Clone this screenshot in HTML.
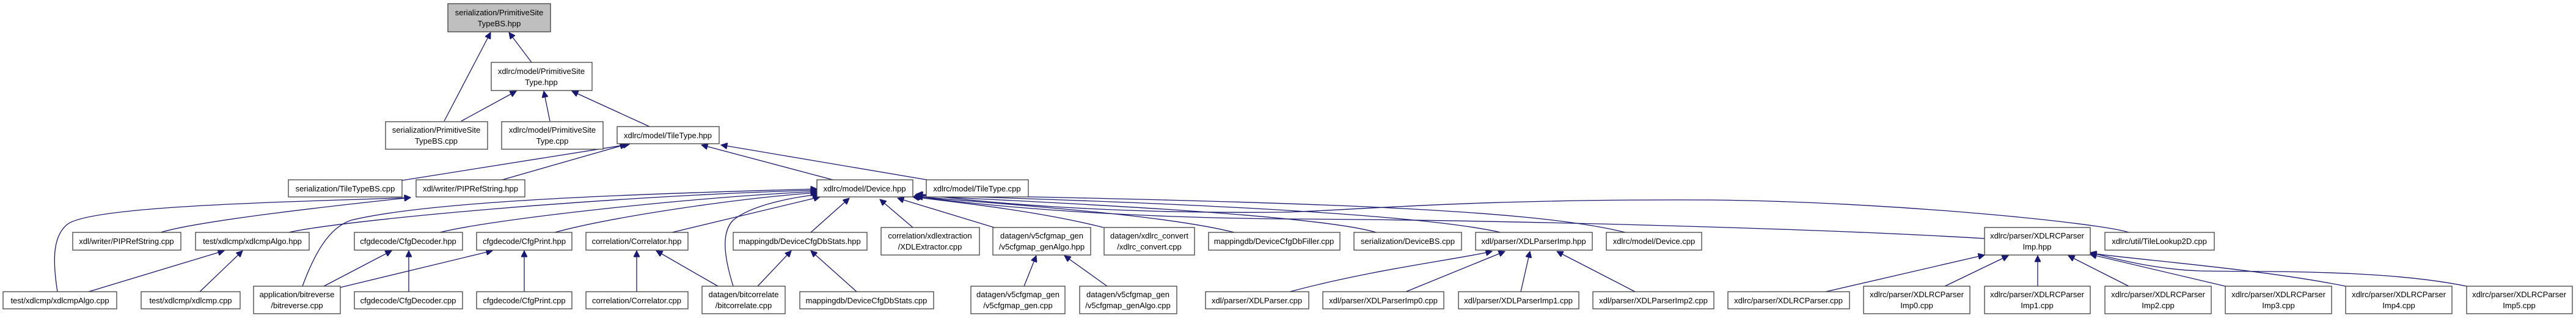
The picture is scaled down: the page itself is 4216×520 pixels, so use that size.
<!DOCTYPE html>
<html><head><meta charset="utf-8"><style>
html,body{margin:0;padding:0;background:#fff;width:4216px;height:520px;overflow:hidden}
svg{display:block}
text{font-family:"Liberation Sans",Arial,sans-serif;font-size:13px;fill:#000;text-anchor:middle}
.n{fill:#fff;stroke:#404040;stroke-width:1.3}
.e{fill:none;stroke:#191970;stroke-width:1.3}
</style></head><body>
<svg width="4216" height="520" viewBox="0 0 4216 520" xmlns="http://www.w3.org/2000/svg">
<defs><marker id="a" viewBox="0 0 10 10" refX="10" refY="5" markerWidth="12" markerHeight="10" markerUnits="userSpaceOnUse" orient="auto"><path d="M0,0L10,5L0,10z" fill="#191970" stroke="#191970"/></marker></defs>
<g marker-end="url(#a)">
<path class="e" d="M727,198L803,53"/>
<path class="e" d="M870,102L833,53"/>
<path class="e" d="M755,198L845,149"/>
<path class="e" d="M900,198L890,149"/>
<path class="e" d="M1063,207L936,149"/>
<path class="e" d="M658,295L1030,236"/>
<path class="e" d="M822,294L1025,236"/>
<path class="e" d="M1363,294L1148,237"/>
<path class="e" d="M1517,294L1180,237"/>
<path class="e" d="M263,380C330,360 560,335 672,323"/>
<path class="e" d="M94,477C85,420 88,385 110,367C150,335 500,330 672,323"/>
<path class="e" d="M473,380C560,360 1000,320 1337,311"/>
<path class="e" d="M495,468C520,400 545,370 575,360C700,330 1000,318 1337,309"/>
<path class="e" d="M720,380C800,360 1100,325 1337,313"/>
<path class="e" d="M908,380C1000,355 1200,325 1337,315"/>
<path class="e" d="M1100,380L1342,322"/>
<path class="e" d="M1200,468C1185,420 1180,380 1200,360C1230,335 1300,322 1340,318"/>
<path class="e" d="M1327,380L1390,324"/>
<path class="e" d="M1494,372L1440,326"/>
<path class="e" d="M1627,372L1469,324"/>
<path class="e" d="M1806,372C1700,345 1560,330 1494,322"/>
<path class="e" d="M2020,380C1900,350 1650,335 1496,321"/>
<path class="e" d="M2252,380C2150,350 1700,330 1497,320"/>
<path class="e" d="M2456,380C2300,345 1800,328 1498,319"/>
<path class="e" d="M2660,380C2500,340 2100,330 1499,318"/>
<path class="e" d="M3248,390C3000,375 2500,360 2100,358C1800,355 1600,335 1500,321"/>
<path class="e" d="M3484,380C3440,365 3100,330 2800,327C2400,325 2200,345 2100,347C1800,350 1600,330 1500,317"/>
<path class="e" d="M2111,477C2250,440 2380,425 2442,411"/>
<path class="e" d="M2301,477L2463,411"/>
<path class="e" d="M2489,477L2504,411"/>
<path class="e" d="M2676,477L2548,411"/>
<path class="e" d="M2988,477L3248,417"/>
<path class="e" d="M3183,468L3287,418"/>
<path class="e" d="M3335,468L3335,418"/>
<path class="e" d="M3484,468L3385,418"/>
<path class="e" d="M3642,468L3421,416"/>
<path class="e" d="M3839,468C3700,440 3500,425 3421,414"/>
<path class="e" d="M4037,468C3900,440 3700,445 3600,443C3520,440 3450,420 3421,413"/>
<path class="e" d="M145,477L367,410"/>
<path class="e" d="M327,477L397,410"/>
<path class="e" d="M530,468L641,410"/>
<path class="e" d="M669,477L669,410"/>
<path class="e" d="M557,470L806,410"/>
<path class="e" d="M858,477L858,410"/>
<path class="e" d="M1042,477L1042,410"/>
<path class="e" d="M1175,468L1074,410"/>
<path class="e" d="M1240,468L1295,410"/>
<path class="e" d="M1402,477L1327,410"/>
<path class="e" d="M1676,468L1696,418"/>
<path class="e" d="M1812,468L1742,418"/>
</g>
<!-- nodes -->
<rect x="733" y="6" width="168" height="46" fill="#bfbfbf" stroke="#404040" stroke-width="1.3"/><text x="817" y="25">serialization/PrimitiveSite</text><text x="817" y="43">TypeBS.hpp</text>
<rect class="n" x="804" y="102" width="165" height="46"/><text x="886" y="121">xdlrc/model/PrimitiveSite</text><text x="886" y="139">Type.hpp</text>
<rect class="n" x="631" y="199" width="167" height="45"/><text x="714" y="217">serialization/PrimitiveSite</text><text x="714" y="235">TypeBS.cpp</text>
<rect class="n" x="821" y="199" width="166" height="45"/><text x="904" y="217">xdlrc/model/PrimitiveSite</text><text x="904" y="235">Type.cpp</text>
<rect class="n" x="1010" y="207" width="167" height="28"/><text x="1093" y="226">xdlrc/model/TileType.hpp</text>
<rect class="n" x="472" y="294" width="186" height="28"/><text x="565" y="313">serialization/TileTypeBS.cpp</text>
<rect class="n" x="681" y="294" width="178" height="28"/><text x="770" y="313">xdl/writer/PIPRefString.hpp</text>
<rect class="n" x="1337" y="294" width="157" height="28"/><text x="1415" y="313">xdlrc/model/Device.hpp</text>
<rect class="n" x="1516" y="294" width="167" height="28"/><text x="1599" y="313">xdlrc/model/TileType.cpp</text>
<rect class="n" x="119" y="380" width="177" height="29"/><text x="207" y="399">xdl/writer/PIPRefString.cpp</text>
<rect class="n" x="320" y="380" width="186" height="29"/><text x="413" y="399">test/xdlcmp/xdlcmpAlgo.hpp</text>
<rect class="n" x="580" y="380" width="177" height="29"/><text x="668" y="399">cfgdecode/CfgDecoder.hpp</text>
<rect class="n" x="780" y="380" width="156" height="29"/><text x="858" y="399">cfgdecode/CfgPrint.hpp</text>
<rect class="n" x="959" y="380" width="167" height="29"/><text x="1042" y="399">correlation/Correlator.hpp</text>
<rect class="n" x="1200" y="380" width="219" height="29"/><text x="1309" y="399">mappingdb/DeviceCfgDbStats.hpp</text>
<rect class="n" x="1442" y="372" width="161" height="45"/><text x="1522" y="390">correlation/xdlextraction</text><text x="1522" y="408">/XDLExtractor.cpp</text>
<rect class="n" x="1625" y="372" width="160" height="45"/><text x="1705" y="390">datagen/v5cfgmap_gen</text><text x="1705" y="408">/v5cfgmap_genAlgo.hpp</text>
<rect class="n" x="1807" y="372" width="148" height="45"/><text x="1881" y="390">datagen/xdlrc_convert</text><text x="1881" y="408">/xdlrc_convert.cpp</text>
<rect class="n" x="1978" y="380" width="215" height="29"/><text x="2085" y="399">mappingdb/DeviceCfgDbFiller.cpp</text>
<rect class="n" x="2216" y="380" width="176" height="29"/><text x="2304" y="399">serialization/DeviceBS.cpp</text>
<rect class="n" x="2415" y="380" width="191" height="29"/><text x="2510" y="399">xdl/parser/XDLParserImp.hpp</text>
<rect class="n" x="2629" y="380" width="156" height="29"/><text x="2707" y="399">xdlrc/model/Device.cpp</text>
<rect class="n" x="3248" y="372" width="173" height="45"/><text x="3334" y="390">xdlrc/parser/XDLRCParser</text><text x="3334" y="408">Imp.hpp</text>
<rect class="n" x="3445" y="380" width="179" height="29"/><text x="3534" y="399">xdlrc/util/TileLookup2D.cpp</text>
<rect class="n" x="5" y="477" width="186" height="28"/><text x="98" y="496">test/xdlcmp/xdlcmpAlgo.cpp</text>
<rect class="n" x="231" y="477" width="162" height="28"/><text x="312" y="496">test/xdlcmp/xdlcmp.cpp</text>
<rect class="n" x="415" y="468" width="142" height="45"/><text x="486" y="486">application/bitreverse</text><text x="486" y="504">/bitreverse.cpp</text>
<rect class="n" x="580" y="477" width="177" height="28"/><text x="668" y="496">cfgdecode/CfgDecoder.cpp</text>
<rect class="n" x="780" y="477" width="156" height="28"/><text x="858" y="496">cfgdecode/CfgPrint.cpp</text>
<rect class="n" x="959" y="477" width="167" height="28"/><text x="1042" y="496">correlation/Correlator.cpp</text>
<rect class="n" x="1149" y="468" width="136" height="45"/><text x="1217" y="486">datagen/bitcorrelate</text><text x="1217" y="504">/bitcorrelate.cpp</text>
<rect class="n" x="1309" y="477" width="219" height="28"/><text x="1418" y="496">mappingdb/DeviceCfgDbStats.cpp</text>
<rect class="n" x="1589" y="468" width="154" height="45"/><text x="1666" y="486">datagen/v5cfgmap_gen</text><text x="1666" y="504">/v5cfgmap_gen.cpp</text>
<rect class="n" x="1767" y="468" width="159" height="45"/><text x="1846" y="486">datagen/v5cfgmap_gen</text><text x="1846" y="504">/v5cfgmap_genAlgo.cpp</text>
<rect class="n" x="1973" y="477" width="169" height="28"/><text x="2057" y="496">xdl/parser/XDLParser.cpp</text>
<rect class="n" x="2165" y="477" width="198" height="28"/><text x="2264" y="496">xdl/parser/XDLParserImp0.cpp</text>
<rect class="n" x="2387" y="477" width="197" height="28"/><text x="2485" y="496">xdl/parser/XDLParserImp1.cpp</text>
<rect class="n" x="2607" y="477" width="198" height="28"/><text x="2706" y="496">xdl/parser/XDLParserImp2.cpp</text>
<rect class="n" x="2828" y="477" width="199" height="28"/><text x="2927" y="496">xdlrc/parser/XDLRCParser.cpp</text>
<rect class="n" x="3050" y="468" width="174" height="45"/><text x="3137" y="486">xdlrc/parser/XDLRCParser</text><text x="3137" y="504">Imp0.cpp</text>
<rect class="n" x="3248" y="468" width="173" height="45"/><text x="3334" y="486">xdlrc/parser/XDLRCParser</text><text x="3334" y="504">Imp1.cpp</text>
<rect class="n" x="3445" y="468" width="174" height="45"/><text x="3532" y="486">xdlrc/parser/XDLRCParser</text><text x="3532" y="504">Imp2.cpp</text>
<rect class="n" x="3642" y="468" width="174" height="45"/><text x="3729" y="486">xdlrc/parser/XDLRCParser</text><text x="3729" y="504">Imp3.cpp</text>
<rect class="n" x="3839" y="468" width="174" height="45"/><text x="3926" y="486">xdlrc/parser/XDLRCParser</text><text x="3926" y="504">Imp4.cpp</text>
<rect class="n" x="4037" y="468" width="173" height="45"/><text x="4123" y="486">xdlrc/parser/XDLRCParser</text><text x="4123" y="504">Imp5.cpp</text>
</svg>
</body></html>
